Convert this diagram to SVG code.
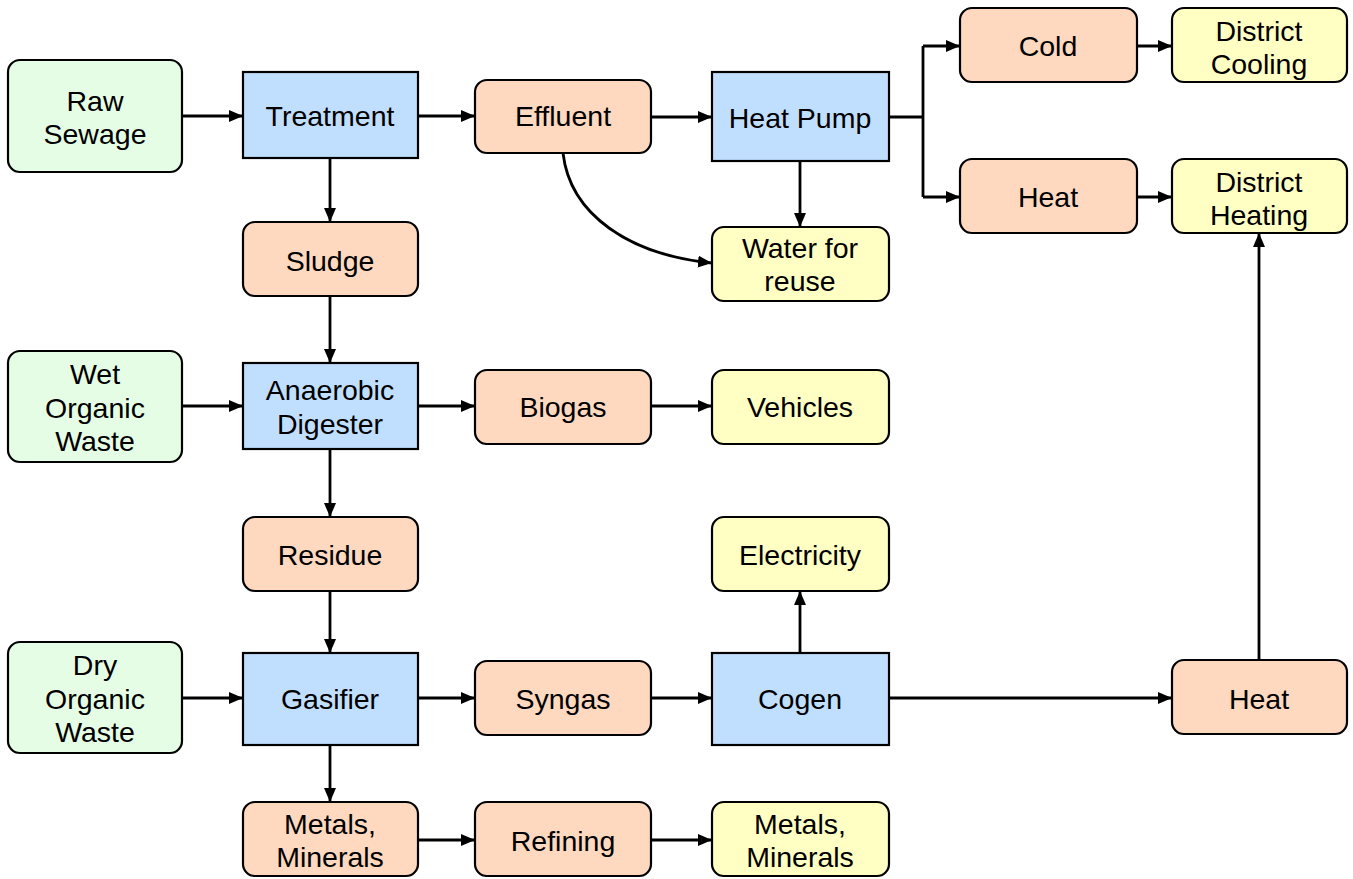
<svg xmlns="http://www.w3.org/2000/svg" width="1353" height="879" viewBox="0 0 1353 879">
<defs>
<marker id="ah" markerWidth="14" markerHeight="12" refX="14" refY="6" orient="auto" markerUnits="userSpaceOnUse">
<path d="M0,0 L14,6 L0,12 Z" fill="#000"/>
</marker>
<style>
rect{stroke:#000;stroke-width:2.2}
.g{fill:#e5fde5}.b{fill:#c0dfff}.o{fill:#fed9c0}.y{fill:#ffffc4}
text{font-family:"Liberation Sans",Arial,sans-serif;font-size:28.5px;fill:#000;text-anchor:middle}
.c path,.c line{stroke:#000;stroke-width:2.8;fill:none}
.a{marker-end:url(#ah)}
</style>
</defs>
<g class="c" id="connectors">
<line class="a" x1="182" y1="116" x2="243" y2="116"/>
<line class="a" x1="418" y1="116" x2="475" y2="116"/>
<line class="a" x1="651" y1="117" x2="712" y2="117"/>
<path d="M889,117 H923 M923,46 V197"/>
<line class="a" x1="923" y1="46" x2="960" y2="46"/>
<line class="a" x1="923" y1="197" x2="960" y2="197"/>
<line class="a" x1="1137" y1="46" x2="1172" y2="46"/>
<line class="a" x1="1137" y1="197" x2="1172" y2="197"/>
<line class="a" x1="800" y1="161" x2="800" y2="227"/>
<path class="a" d="M563,153 C570,215 630,255 712,263"/>
<line class="a" x1="330" y1="158" x2="330" y2="222"/>
<line class="a" x1="330" y1="296" x2="330" y2="363"/>
<line class="a" x1="182" y1="406" x2="243" y2="406"/>
<line class="a" x1="418" y1="406" x2="475" y2="406"/>
<line class="a" x1="651" y1="406" x2="712" y2="406"/>
<line class="a" x1="330" y1="449" x2="330" y2="517"/>
<line class="a" x1="330" y1="591" x2="330" y2="653"/>
<line class="a" x1="182" y1="698" x2="243" y2="698"/>
<line class="a" x1="418" y1="698" x2="475" y2="698"/>
<line class="a" x1="651" y1="698" x2="712" y2="698"/>
<line class="a" x1="800" y1="653" x2="800" y2="591"/>
<line class="a" x1="889" y1="698" x2="1172" y2="698"/>
<line class="a" x1="1259" y1="660" x2="1259" y2="233"/>
<line class="a" x1="330" y1="745" x2="330" y2="802"/>
<line class="a" x1="418" y1="840" x2="475" y2="840"/>
<line class="a" x1="651" y1="840" x2="712" y2="840"/>
</g>
<g id="raw-sewage"><rect class="g" x="8" y="60" width="174" height="112" rx="12"/><text x="95" y="111">Raw</text><text x="95" y="144">Sewage</text></g>
<g id="treatment"><rect class="b" x="243" y="72" width="175" height="86"/><text x="330" y="126">Treatment</text></g>
<g id="effluent"><rect class="o" x="475" y="80" width="176" height="73" rx="12"/><text x="563" y="126">Effluent</text></g>
<g id="heat-pump"><rect class="b" x="712" y="72" width="177" height="89"/><text x="800" y="128">Heat Pump</text></g>
<g id="cold"><rect class="o" x="960" y="8" width="177" height="74" rx="12"/><text x="1048" y="56">Cold</text></g>
<g id="district-cooling"><rect class="y" x="1172" y="8" width="175" height="74" rx="12"/><text x="1259" y="41">District</text><text x="1259" y="74">Cooling</text></g>
<g id="heat-top"><rect class="o" x="960" y="159" width="177" height="74" rx="12"/><text x="1048" y="207">Heat</text></g>
<g id="district-heating"><rect class="y" x="1172" y="159" width="175" height="74" rx="12"/><text x="1259" y="192">District</text><text x="1259" y="225">Heating</text></g>
<g id="water-reuse"><rect class="y" x="712" y="227" width="177" height="74" rx="12"/><text x="800" y="258">Water for</text><text x="800" y="291">reuse</text></g>
<g id="sludge"><rect class="o" x="243" y="222" width="175" height="74" rx="12"/><text x="330" y="271">Sludge</text></g>
<g id="wet-organic"><rect class="g" x="8" y="351" width="174" height="111" rx="12"/><text x="95" y="384">Wet</text><text x="95" y="418">Organic</text><text x="95" y="451">Waste</text></g>
<g id="anaerobic-digester"><rect class="b" x="243" y="363" width="175" height="86"/><text x="330" y="400">Anaerobic</text><text x="330" y="434">Digester</text></g>
<g id="biogas"><rect class="o" x="475" y="370" width="176" height="74" rx="12"/><text x="563" y="417">Biogas</text></g>
<g id="vehicles"><rect class="y" x="712" y="370" width="177" height="74" rx="12"/><text x="800" y="417">Vehicles</text></g>
<g id="residue"><rect class="o" x="243" y="517" width="175" height="74" rx="12"/><text x="330" y="565">Residue</text></g>
<g id="electricity"><rect class="y" x="712" y="517" width="177" height="74" rx="12"/><text x="800" y="565">Electricity</text></g>
<g id="dry-organic"><rect class="g" x="8" y="642" width="174" height="111" rx="12"/><text x="95" y="675">Dry</text><text x="95" y="709">Organic</text><text x="95" y="742">Waste</text></g>
<g id="gasifier"><rect class="b" x="243" y="653" width="175" height="92"/><text x="330" y="709">Gasifier</text></g>
<g id="syngas"><rect class="o" x="475" y="661" width="176" height="74" rx="12"/><text x="563" y="709">Syngas</text></g>
<g id="cogen"><rect class="b" x="712" y="653" width="177" height="92"/><text x="800" y="709">Cogen</text></g>
<g id="heat-bottom"><rect class="o" x="1172" y="660" width="175" height="74" rx="12"/><text x="1259" y="709">Heat</text></g>
<g id="metals-minerals-1"><rect class="o" x="243" y="802" width="175" height="74" rx="12"/><text x="330" y="834">Metals,</text><text x="330" y="867">Minerals</text></g>
<g id="refining"><rect class="o" x="475" y="802" width="176" height="74" rx="12"/><text x="563" y="851">Refining</text></g>
<g id="metals-minerals-2"><rect class="y" x="712" y="802" width="177" height="74" rx="12"/><text x="800" y="834">Metals,</text><text x="800" y="867">Minerals</text></g>
</svg>
